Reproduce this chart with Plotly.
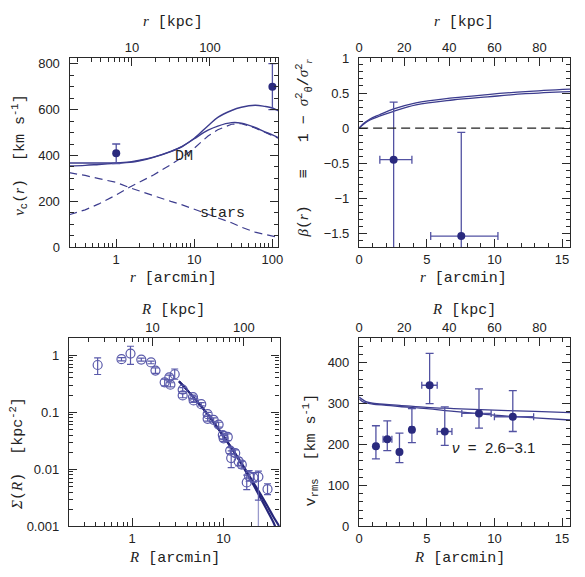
import numpy as np
import plotly.graph_objects as go

W, H = 585, 577

# ---------------- data ----------------
KPC_PER_ARCMIN_TOPLEFT = 6.3
KPC_PER_ARCMIN = 6.0

# Panel 1: circular velocity
r_vc = [0.25, 0.4, 0.6, 1, 1.5, 2, 3, 5, 7, 10, 15, 20, 30, 40, 60, 80, 100, 122]
vc_total_a = [367, 367, 367, 368, 372, 379, 393, 418, 440, 475, 530, 566, 596, 610, 619, 614, 607, 593]
vc_total_b = [354, 357, 361, 366, 370, 377, 392, 417, 439, 473, 510, 528, 543, 541, 522, 503, 490, 476]
vc_dm = [142, 163, 189, 228, 263, 285, 315, 360, 392, 432, 485, 512, 536, 539, 520, 501, 488, 474]
vc_stars = [325, 313, 299, 283, 259, 245, 222, 200, 185, 165, 145, 128, 107, 88, 66, 55, 47, 42]
r_vc_obs = [1.0, 100.0]
vc_obs = [410, 700]
vc_obs_plus = [40, 100]
vc_obs_minus = [45, 100]

# Panel 2: anisotropy
r_beta = [0, 0.3, 0.8, 1.5, 2.5, 4.2, 6.9, 9.5, 12.3, 15.6]
beta_a = [0, 0.06, 0.13, 0.19, 0.27, 0.36, 0.43, 0.478, 0.52, 0.555]
beta_b = [0, 0.05, 0.115, 0.17, 0.235, 0.33, 0.40, 0.445, 0.49, 0.52]
r_beta_obs = [2.55, 7.55]
beta_obs = [-0.45, -1.54]
r_beta_minus = [1.02, 2.26]
r_beta_plus = [1.35, 2.71]
beta_plus = [0.82, 1.48]
beta_minus = [3.0, 3.0]

# Panel 3: surface density
R_sig = [0.42, 0.765, 0.96, 1.26, 1.61, 1.8, 2.27, 2.55, 2.62, 2.92, 3.57, 3.57,
         4.63, 4.7, 5.7, 6.69, 6.69, 7.78, 8.82, 9.8, 10.0, 11.1, 11.8, 12.1,
         13.4, 14.6, 15.8, 17.9, 19.0, 21.2, 24.0, 30.2]
sig = [0.675, 0.853, 1.07, 0.84, 0.75, 0.54, 0.335, 0.41, 0.305, 0.465, 0.25, 0.198,
       0.185, 0.162, 0.139, 0.093, 0.077, 0.074, 0.061, 0.040, 0.035, 0.037, 0.0214, 0.0158,
       0.0193, 0.0138, 0.0121, 0.0059, 0.0076, 0.0072, 0.0074, 0.0045]
sig_lo = [0.46, 0.80, 0.69, 0.79, 0.71, 0.48, 0.29, 0.37, 0.28, 0.38, 0.23, 0.18,
          0.17, 0.15, 0.13, 0.085, 0.07, 0.068, 0.055, 0.034, 0.031, 0.032, 0.019, 0.0107,
          0.017, 0.0115, 0.0105, 0.0044, 0.0062, 0.006, 0.0029, 0.0036]
sig_hi = [0.90, 0.91, 1.44, 0.89, 0.79, 0.60, 0.38, 0.45, 0.33, 0.575, 0.27, 0.215,
          0.20, 0.175, 0.148, 0.10, 0.085, 0.08, 0.067, 0.046, 0.039, 0.042, 0.024, 0.0211,
          0.022, 0.016, 0.014, 0.0079, 0.0095, 0.0088, 0.0093, 0.0056]
R_sig_tail = [24.0]
sig_tail = [0.0029]
sig_tail_lo = [0.0001]
R_fit_a = [3.25, 4, 5, 6, 8, 10, 13, 16, 20, 25, 30, 35, 41.4, 44]
sig_fit_a = [0.35, 0.245, 0.163, 0.115, 0.063, 0.038, 0.0205, 0.0122, 0.0068, 0.0038, 0.0023, 0.00148, 0.00095, 0.00078]
R_fit_b = [3.25, 4, 5, 6, 8, 10, 13, 16, 20, 25, 30, 35, 38, 41]
sig_fit_b = [0.35, 0.245, 0.163, 0.115, 0.063, 0.038, 0.0200, 0.0117, 0.0063, 0.0033, 0.0019, 0.00118, 0.00085, 0.00062]

# Panel 4: rms velocity
R_v = [1.24, 2.08, 2.98, 3.9, 5.21, 6.33, 8.86, 11.36]
v_obs = [196, 213, 182, 236, 345, 232, 276, 268]
v_hi = [246, 258, 228, 288, 423, 292, 336, 332]
v_lo = [165, 185, 156, 205, 300, 198, 240, 232]
R_v_minus = [0.1, 0.31, 0.12, 0.15, 0.58, 0.56, 1.27, 1.36]
R_v_plus = [0.1, 0.34, 0.12, 0.15, 0.56, 0.53, 0.9, 1.54]
R_vfit = [0, 0.2, 0.5, 1, 2, 3, 5, 7, 10, 13, 15.6]
vrms_a = [316, 311, 305, 301, 298, 296, 291, 288, 284, 281, 278]
vrms_b = [312, 306, 302, 299, 296, 293, 288, 281, 272, 265, 260]

# axis ranges
x1_range_log = [-0.596, 2.072]
y1_range = [0, 825]
x2_range = [0, 15.6]
y2_range = [-1.7, 1]
x3_range_log = [-0.69, 1.613]
y3_range_log = [-3, 0.30]
x4_range = [0, 15.6]
y4_range = [0, 460]

# ---------------- styling ----------------
AX = '#2a2a2a'
LINE = '#3c3c8e'
MARK = '#2a2a7e'
ERR = '#5252a2'
FIT3 = '#26267a'
OPEN = '#5a5aaa'
TICKFONT = dict(family='Liberation Sans, Arial, sans-serif', size=13, color='#222')
MONO = 'Liberation Mono, Courier New, monospace'

doms = {
    1: ([66.7, 278.3], [52.3, 246.7]),
    2: ([360.7, 575], [52.3, 246.7]),
    3: ([66, 280], [340, 533.3]),
    4: ([360.7, 575], [340, 533.3]),
}


def xd(p):
    return [p[0][0] / W, p[0][1] / W]


def yd(p):
    return [1 - p[1][1] / H, 1 - p[1][0] / H]


def base(**kw):
    d = dict(showline=True, linecolor=AX, linewidth=1.4, ticks='inside', ticklen=8,
             tickwidth=1, tickcolor=AX, showgrid=False, zeroline=False,
             tickfont=TICKFONT, fixedrange=True)
    d.update(kw)
    return d


def minor(**kw):
    d = dict(ticks='inside', ticklen=4, tickwidth=1, tickcolor=AX, showgrid=False)
    d.update(kw)
    return d


def log_minor(lo, hi):
    vals = []
    for e in range(int(np.floor(lo)), int(np.ceil(hi)) + 1):
        for m in range(2, 10):
            v = m * 10.0 ** e
            if lo <= np.log10(v) <= hi:
                vals.append(v)
    return vals


def log_major(lo, hi):
    return [10.0 ** e for e in range(int(np.floor(lo)), int(np.ceil(hi)) + 1) if lo <= e <= hi]


def fmt(v):
    return '%g' % v


fig = go.Figure()

# ---- Panel 1 ----
fig.add_trace(go.Scatter(x=r_vc, y=vc_dm, mode='lines', line=dict(color=LINE, width=1.2, dash='8px,5px'),
                         xaxis='x', yaxis='y', showlegend=False))
fig.add_trace(go.Scatter(x=r_vc, y=vc_stars, mode='lines', line=dict(color=LINE, width=1.2, dash='8px,5px'),
                         xaxis='x', yaxis='y', showlegend=False))
for vv in (vc_total_a, vc_total_b):
    fig.add_trace(go.Scatter(x=r_vc, y=vv, mode='lines', line=dict(color=LINE, width=1.4, shape='spline'),
                             xaxis='x', yaxis='y', showlegend=False))
fig.add_trace(go.Scatter(x=r_vc_obs, y=vc_obs, mode='markers', marker=dict(color=MARK, size=8),
                         error_y=dict(type='data', symmetric=False, array=vc_obs_plus, arrayminus=vc_obs_minus,
                                      color=ERR, thickness=1.3, width=4),
                         xaxis='x', yaxis='y', showlegend=False))

# ---- Panel 2 ----
for bb in (beta_a, beta_b):
    fig.add_trace(go.Scatter(x=r_beta, y=bb, mode='lines', line=dict(color=LINE, width=1.3, shape='spline'),
                             xaxis='x2', yaxis='y2', showlegend=False))
fig.add_trace(go.Scatter(x=r_beta_obs, y=beta_obs, mode='markers', marker=dict(color=MARK, size=8),
                         error_y=dict(type='data', symmetric=False, array=beta_plus, arrayminus=beta_minus,
                                      color=ERR, thickness=1.3, width=4),
                         error_x=dict(type='data', symmetric=False, array=r_beta_plus, arrayminus=r_beta_minus,
                                      color=ERR, thickness=1.3, width=4),
                         xaxis='x2', yaxis='y2', showlegend=False))

# ---- Panel 3 ----
fig.add_trace(go.Scatter(x=R_sig_tail, y=sig_tail, mode='markers', marker=dict(size=0.1, color='rgba(0,0,0,0)'),
                         error_y=dict(type='data', symmetric=False, array=[0], arrayminus=[sig_tail[0] - sig_tail_lo[0]],
                                      color='#9a9acc', thickness=1.3, width=0),
                         xaxis='x3', yaxis='y3', showlegend=False))
fig.add_trace(go.Scatter(x=R_fit_a, y=sig_fit_a, mode='lines', line=dict(color=FIT3, width=2.2, shape='spline'),
                         xaxis='x3', yaxis='y3', showlegend=False))
fig.add_trace(go.Scatter(x=R_fit_b, y=sig_fit_b, mode='lines', line=dict(color=FIT3, width=2.2, shape='spline'),
                         xaxis='x3', yaxis='y3', showlegend=False))
fig.add_trace(go.Scatter(x=R_sig, y=sig, mode='markers',
                         marker=dict(symbol='circle-open', size=9, color=OPEN, line=dict(width=1.2, color=OPEN)),
                         error_y=dict(type='data', symmetric=False,
                                      array=[h - s for h, s in zip(sig_hi, sig)],
                                      arrayminus=[s - l for s, l in zip(sig, sig_lo)],
                                      color=OPEN, thickness=1.2, width=3.5),
                         xaxis='x3', yaxis='y3', showlegend=False))

# ---- Panel 4 ----
for vv in (vrms_a, vrms_b):
    fig.add_trace(go.Scatter(x=R_vfit, y=vv, mode='lines', line=dict(color=LINE, width=1.3, shape='spline'),
                             xaxis='x4', yaxis='y4', showlegend=False))
fig.add_trace(go.Scatter(x=R_v, y=v_obs, mode='markers', marker=dict(color=MARK, size=8),
                         error_y=dict(type='data', symmetric=False,
                                      array=[h - v for h, v in zip(v_hi, v_obs)],
                                      arrayminus=[v - l for v, l in zip(v_obs, v_lo)],
                                      color=ERR, thickness=1.3, width=4),
                         error_x=dict(type='data', symmetric=False, array=R_v_plus, arrayminus=R_v_minus,
                                      color=ERR, thickness=1.3, width=3.5),
                         xaxis='x4', yaxis='y4', showlegend=False))

# dummy traces for top axes
for xa, ya in (('x5', 'y'), ('x6', 'y2'), ('x7', 'y3'), ('x8', 'y4')):
    fig.add_trace(go.Scatter(x=[], y=[], xaxis=xa, yaxis=ya, showlegend=False, hoverinfo='skip'))

# ---------------- axes ----------------
lay = {}
# Panel 1
lay['xaxis'] = base(domain=xd(doms[1]), anchor='y', type='log', range=x1_range_log,
                    tickvals=log_major(*x1_range_log), ticktext=[fmt(v) for v in log_major(*x1_range_log)],
                    minor=minor(tickvals=log_minor(*x1_range_log)))
k1 = np.log10(KPC_PER_ARCMIN_TOPLEFT)
x5r = [x1_range_log[0] + k1, x1_range_log[1] + k1]
lay['xaxis5'] = base(overlaying='x', anchor='y', side='top', type='log', range=x5r,
                     tickvals=log_major(*x5r), ticktext=[fmt(v) for v in log_major(*x5r)],
                     minor=minor(tickvals=log_minor(*x5r)))
lay['yaxis'] = base(domain=yd(doms[1]), anchor='x', range=y1_range, dtick=200, tick0=0,
                    mirror='ticks', ticklabelstandoff=6, minor=minor(dtick=50))
# Panel 2
lay['xaxis2'] = base(domain=xd(doms[2]), anchor='y2', range=x2_range, dtick=5, tick0=0,
                     minor=minor(dtick=1))
x6r = [x2_range[0] * KPC_PER_ARCMIN, x2_range[1] * KPC_PER_ARCMIN]
lay['xaxis6'] = base(overlaying='x2', anchor='y2', side='top', range=x6r, dtick=20, tick0=0,
                     minor=minor(dtick=5))
lay['yaxis2'] = base(domain=yd(doms[2]), anchor='x2', range=y2_range, dtick=0.5, tick0=0,
                     mirror='ticks', ticklabelstandoff=6, minor=minor(dtick=0.1))
# Panel 3
lay['xaxis3'] = base(domain=xd(doms[3]), anchor='y3', type='log', range=x3_range_log,
                     tickvals=log_major(*x3_range_log), ticktext=[fmt(v) for v in log_major(*x3_range_log)],
                     minor=minor(tickvals=log_minor(*x3_range_log)))
k3 = np.log10(KPC_PER_ARCMIN)
x7r = [x3_range_log[0] + k3, x3_range_log[1] + k3]
lay['xaxis7'] = base(overlaying='x3', anchor='y3', side='top', type='log', range=x7r,
                     tickvals=log_major(*x7r), ticktext=[fmt(v) for v in log_major(*x7r)],
                     minor=minor(tickvals=log_minor(*x7r)))
ymaj3 = log_major(*y3_range_log)
lay['yaxis3'] = base(domain=yd(doms[3]), anchor='x3', type='log', range=y3_range_log,
                     tickvals=ymaj3, ticktext=[fmt(v) for v in ymaj3],
                     mirror='ticks', ticklabelstandoff=6, minor=minor(tickvals=log_minor(*y3_range_log)))
# Panel 4
lay['xaxis4'] = base(domain=xd(doms[4]), anchor='y4', range=x4_range, dtick=5, tick0=0,
                     minor=minor(dtick=1))
x8r = [x4_range[0] * KPC_PER_ARCMIN, x4_range[1] * KPC_PER_ARCMIN]
lay['xaxis8'] = base(overlaying='x4', anchor='y4', side='top', range=x8r, dtick=20, tick0=0,
                     minor=minor(dtick=5))
lay['yaxis4'] = base(domain=yd(doms[4]), anchor='x4', range=y4_range, dtick=100, tick0=0,
                     mirror='ticks', ticklabelstandoff=6, minor=minor(dtick=20))

fig.update_layout(**lay)

# dashed zero line in panel 2
fig.add_shape(type='line', xref='x2 domain', yref='y2', x0=0, x1=1, y0=0, y1=0,
              line=dict(color='#222', width=1.3, dash='9px,5px'))

# ---------------- text ----------------
ann = []
TF = dict(family=MONO, size=15, color='#222')
IT = '<span style="font-family:Liberation Serif, serif"><i>%s</i></span>'


def pa(text, px, py, angle=0, **kw):
    d = dict(text=text, x=px / W, y=1 - py / H, xref='paper', yref='paper', showarrow=False,
             font=TF, textangle=angle, xanchor='center', yanchor='middle')
    d.update(kw)
    ann.append(d)


NB = '\u00a0'
# panel 1
pa(IT % 'r' + ' [kpc]', 172, 15)
pa(IT % 'r' + ' [arcmin]', 172, 278)
pa(IT % 'v' + '<sub>c</sub>(' + IT % 'r' + ')' + NB + NB + '[km s<sup>-1</sup>]', 15, 152, angle=-90)
# panel 2
pa(IT % 'r' + ' [kpc]', 467, 15)
pa(IT % 'r' + ' [arcmin]', 467, 278)
pa(IT % 'β' + '(' + IT % 'r' + ')' + NB * 3 + '≡' + NB * 3 + '1' + NB + '−' + NB + IT % 'σ' +
   '<sup>2</sup><sub>θ</sub>/' + IT % 'σ' + '<sup>2</sup><sub>' + IT % 'r' + '</sub>', 304, 145, angle=-90)
# panel 3
pa(IT % 'R' + ' [kpc]', 172, 311)
pa(IT % 'R' + ' [arcmin]', 173, 566)
pa(IT % 'Σ' + '(' + IT % 'R' + ')' + NB + NB + '[kpc<sup>-2</sup>]', 13, 458, angle=-90)
# panel 4
pa(IT % 'R' + ' [kpc]', 467, 311)
pa(IT % 'R' + ' [arcmin]', 463, 566)
pa('v<sub>rms</sub>' + NB + NB + '[km s<sup>-1</sup>]', 311, 455, angle=-90)

# in-plot labels
ann.append(dict(text='DM', x=np.log10(5.34), y=397, xref='x', yref='y', showarrow=False,
                xanchor='left', yanchor='middle', font=dict(family=MONO, size=15, color='#222')))
ann.append(dict(text='stars', x=np.log10(11.04), y=147, xref='x', yref='y', showarrow=False,
                xanchor='left', yanchor='middle', font=dict(family=MONO, size=15, color='#222')))
ann.append(dict(text='<i>ν</i>' + NB + NB + '=' + NB + NB + '2.6−3.1', x=6.72, y=194, xref='x4', yref='y4',
                showarrow=False, xanchor='left', yanchor='middle',
                font=dict(family='Liberation Sans, Arial, sans-serif', size=15, color='#222')))

fig.update_layout(annotations=ann, width=W, height=H, margin=dict(l=0, r=0, t=0, b=0),
                  paper_bgcolor='white', plot_bgcolor='white', showlegend=False)

fig.write_html('out.html', config={'displayModeBar': False})
